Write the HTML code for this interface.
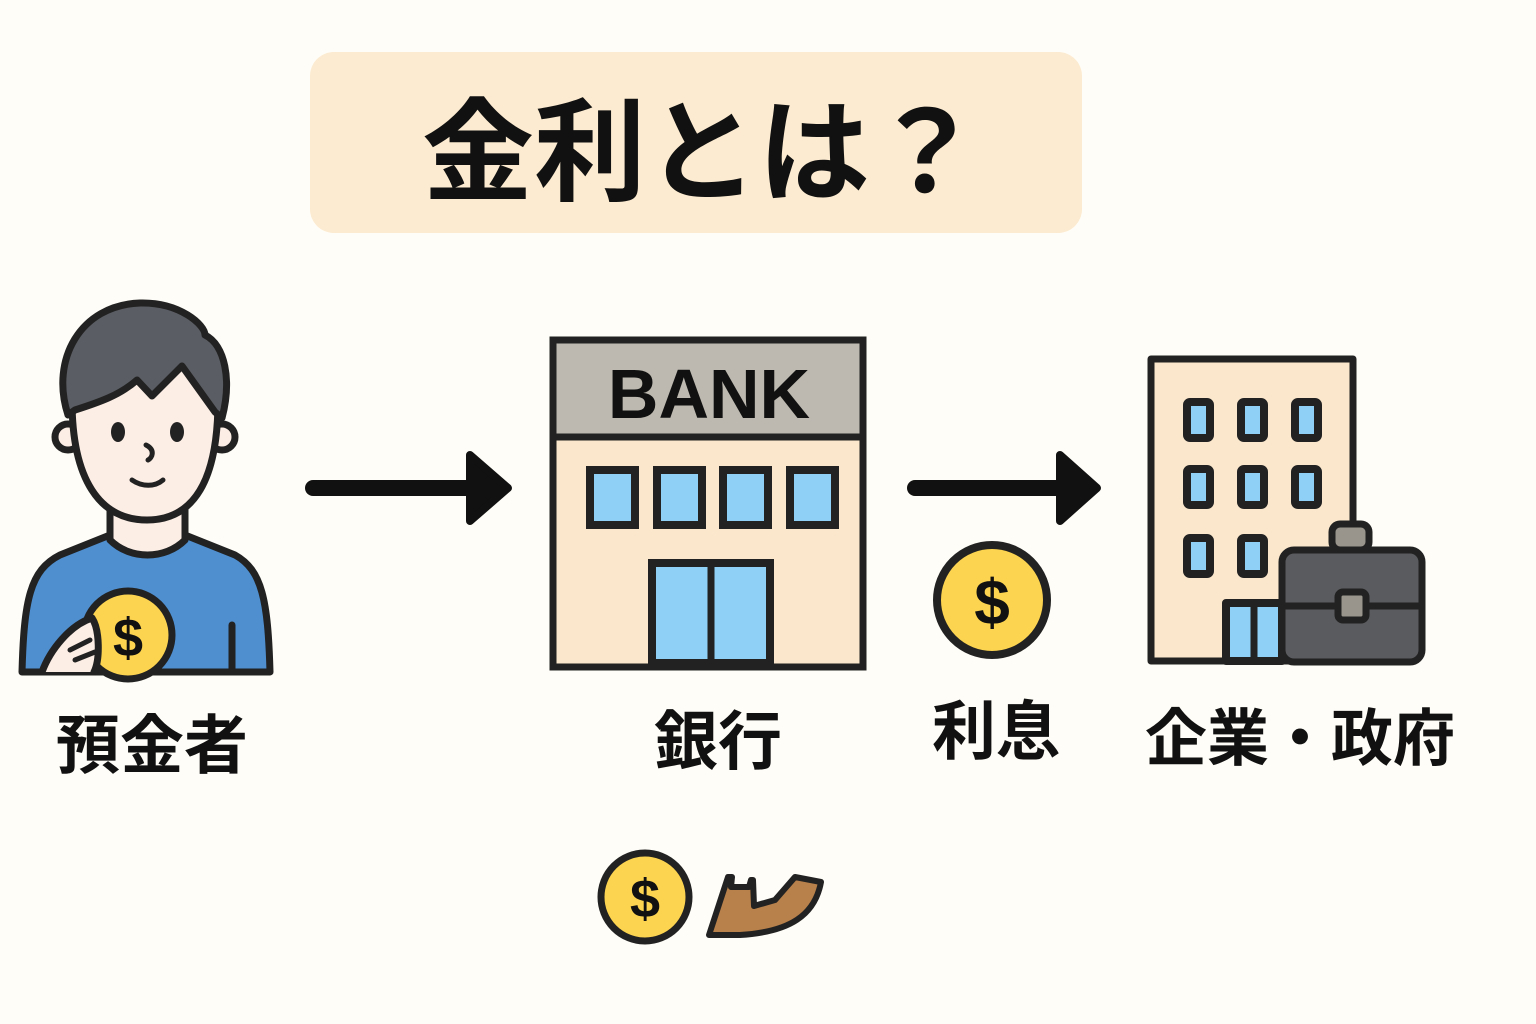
<!DOCTYPE html>
<html><head><meta charset="utf-8"><style>
html,body{margin:0;padding:0;background:#fffdf7;}
svg{display:block;}
text{font-family:"Liberation Sans","Noto Sans CJK JP",sans-serif;font-weight:bold;fill:#111;}
</style></head><body>
<svg width="1536" height="1024" viewBox="0 0 1536 1024" xmlns="http://www.w3.org/2000/svg">
<rect width="1536" height="1024" fill="#fffdf7"/>
<rect x="310" y="52" width="772" height="181" rx="24" fill="#fcebd0"/>
<text x="702" y="192" font-size="112" text-anchor="middle">金利とは？</text>

<g stroke="#222" stroke-width="7" stroke-linejoin="round" stroke-linecap="round">
<path d="M22 672 C24 600 30 570 60 555 L110 535 L185 535 L235 555 C262 570 268 600 270 672 Z" fill="#4f8fd0"/>
<path d="M110 505 L110 540 C130 560 165 560 185 540 L185 505 Z" fill="#fdeee5"/>
<path d="M232 625 L232 672" fill="none"/>
<circle cx="68" cy="437" r="13" fill="#fdeee5"/>
<circle cx="222" cy="437" r="13" fill="#fdeee5"/>
<path d="M72 400 C72 480 100 520 147 520 C194 520 218 480 218 400 C218 360 185 340 147 340 C105 340 72 360 72 400 Z" fill="#fdeee5"/>
<path d="M68 415 C50 360 80 305 140 303 C180 302 205 325 205 335 C225 345 232 380 222 418 L215 412 L182 366 L152 396 L137 380 C120 395 100 402 75 410 Z" fill="#5a5d63"/>
<path d="M146 445 C156 450 152 458 148 460" fill="none" stroke-width="5"/>
<path d="M132 480 C142 487 155 487 163 480" fill="none" stroke-width="5"/>
<circle cx="128" cy="635" r="44" fill="#fdd44f"/>
<path d="M42 672 C50 650 70 625 92 618 C100 630 100 660 94 672" fill="#fdeee5"/>
<path d="M70 650 L90 640 M75 660 L95 652" fill="none" stroke-width="5"/>
</g>
<ellipse cx="118" cy="432" rx="7" ry="10" fill="#222"/>
<ellipse cx="177" cy="432" rx="7" ry="10" fill="#222"/>
<text x="128" y="656" font-size="54" text-anchor="middle">$</text>

<path d="M313 488 L490 488" stroke="#111" stroke-width="16" stroke-linecap="round"/>
<path d="M470 455 L508 488 L470 521 Z" fill="#111" stroke="#111" stroke-width="8" stroke-linejoin="round"/>

<g stroke="#222" stroke-width="7">
<rect x="553" y="340" width="310" height="327" fill="#fbe8cc"/>
<rect x="553" y="340" width="310" height="97" fill="#bdb9b0"/>
<g fill="#8fd0f7" stroke-width="8">
<rect x="590" y="470" width="45" height="55"/>
<rect x="657" y="470" width="45" height="55"/>
<rect x="723" y="470" width="45" height="55"/>
<rect x="790" y="470" width="45" height="55"/>
<rect x="652" y="563" width="118" height="100"/>
</g>
<path d="M711 563 L711 663"/>
</g>
<text x="709" y="418" font-size="70" text-anchor="middle">BANK</text>

<path d="M915 488 L1080 488" stroke="#111" stroke-width="16" stroke-linecap="round"/>
<path d="M1060 455 L1097 488 L1060 521 Z" fill="#111" stroke="#111" stroke-width="8" stroke-linejoin="round"/>

<circle cx="992" cy="600" r="55" fill="#fdd44f" stroke="#222" stroke-width="8"/>
<text x="992" y="624" font-size="64" text-anchor="middle">$</text>

<g stroke="#222" stroke-width="7" stroke-linejoin="round">
<rect x="1151" y="359" width="202" height="302" fill="#fbe8cc"/>
<g fill="#8fd0f7" stroke-width="8">
<rect x="1187" y="402" width="23" height="36" rx="3"/>
<rect x="1241" y="402" width="23" height="36" rx="3"/>
<rect x="1295" y="402" width="23" height="36" rx="3"/>
<rect x="1187" y="469" width="23" height="36" rx="3"/>
<rect x="1241" y="469" width="23" height="36" rx="3"/>
<rect x="1295" y="469" width="23" height="36" rx="3"/>
<rect x="1187" y="538" width="23" height="36" rx="3"/>
<rect x="1241" y="538" width="23" height="36" rx="3"/>
<rect x="1226" y="603" width="56" height="58"/>
</g>
<path d="M1254 603 L1254 661"/>
<rect x="1332" y="524" width="37" height="26" rx="8" fill="#9a958c"/>
<rect x="1282" y="550" width="140" height="112" rx="12" fill="#5a5b5e"/>
<path d="M1282 606 L1422 606"/>
<rect x="1338" y="592" width="28" height="28" rx="5" fill="#9a958c"/>
</g>

<text x="152" y="768" font-size="64" text-anchor="middle">預金者</text>
<text x="718" y="764" font-size="64" text-anchor="middle">銀行</text>
<text x="996" y="754" font-size="64" text-anchor="middle">利息</text>
<text x="1300" y="760" font-size="62" text-anchor="middle">企業・政府</text>

<circle cx="645" cy="897" r="44" fill="#fdd44f" stroke="#222" stroke-width="7"/>
<text x="645" y="917" font-size="54" text-anchor="middle">$</text>
<path d="M709 935 L728 877 L732 877 L731 887 L749 887 L751 880 L753 880 L754 906 L775 900 L795 877 L821 882 C815 915 790 932 740 935 Z" fill="#b8804a" stroke="#222" stroke-width="6" stroke-linejoin="round"/>
</svg>
</body></html>
